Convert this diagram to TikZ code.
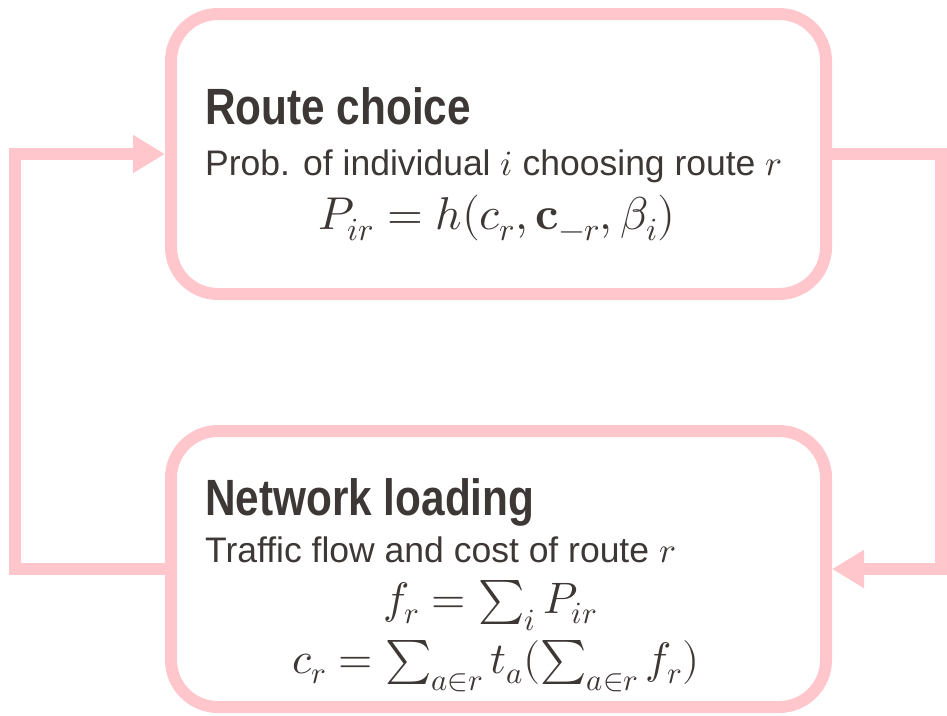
\documentclass[tikz,border=0pt]{standalone}
\usepackage{fontspec}
\usepackage{unicode-math}
\setmainfont{Liberation Sans}
\setmathfont{Latin Modern Math}
\usetikzlibrary{arrows.meta}
\definecolor{rim}{RGB}{255,199,204}
\definecolor{ink}{RGB}{61,55,53}
\newcommand{\narrowhead}[1]{\scalebox{0.83}[1]{#1}}
\begin{document}
\begin{tikzpicture}[x=1pt,y=-1pt,
  box/.style={draw=rim, line width=12pt, rounded corners=47pt,
    minimum width=655pt, inner sep=0pt},
  headtext/.style={anchor=base west, inner sep=0pt, text=ink,
    font=\fontsize{51}{60}\selectfont\bfseries},
  subtext/.style={anchor=base west, inner sep=0pt, text=ink,
    font=\fontsize{35.5}{42}\selectfont},
  mathtext/.style={anchor=base, inner sep=0pt, text=ink,
    font=\fontsize{46}{54}\selectfont},
  summath/.style={mathtext, font=\fontsize{44}{52}\selectfont},
  flow/.style={draw=rim, line width=12pt, line join=miter,
    -{Triangle[length=32pt,width=36pt]}}]
\useasboundingbox (0,0) rectangle (947,715);

% the two stages of the loop
\node[box, minimum height=280pt] (top) at (498.5,154) {};
\node[box, minimum height=276pt] (bot) at (498.5,569) {};

% route choice stage
\node[headtext] (rctitle) at (205,124) {\narrowhead{Route choice}};
\node[subtext] (rcsub) at (205,175) {Prob. of individual $i$ choosing route $r$};
\node[mathtext] (rcmath) at (497,229) {$P_{ir}=h(c_r,\symbf{c}_{-r},\beta_i)$};

% network loading stage
\node[headtext] (nltitle) at (205,515) {\narrowhead{Network loading}};
\node[subtext] (nlsub) at (205,562) {Traffic flow and cost of route $r$};
\node[summath] (nlflow) at (490,613) {$f_r=\textstyle\sum_i P_{ir}$};
\node[summath] (nlcost) at (496,673) {$c_r=\textstyle\sum_{a\in r}t_a(\sum_{a\in r}f_r)$};

% feedback connectors
\coordinate (L) at (15,362);
\coordinate (R) at (941,362);
\draw[flow] (bot.west) -| (L) |- (top.west);
\draw[flow] (top.east) -| (R) |- (bot.east);
\end{tikzpicture}
\end{document}
